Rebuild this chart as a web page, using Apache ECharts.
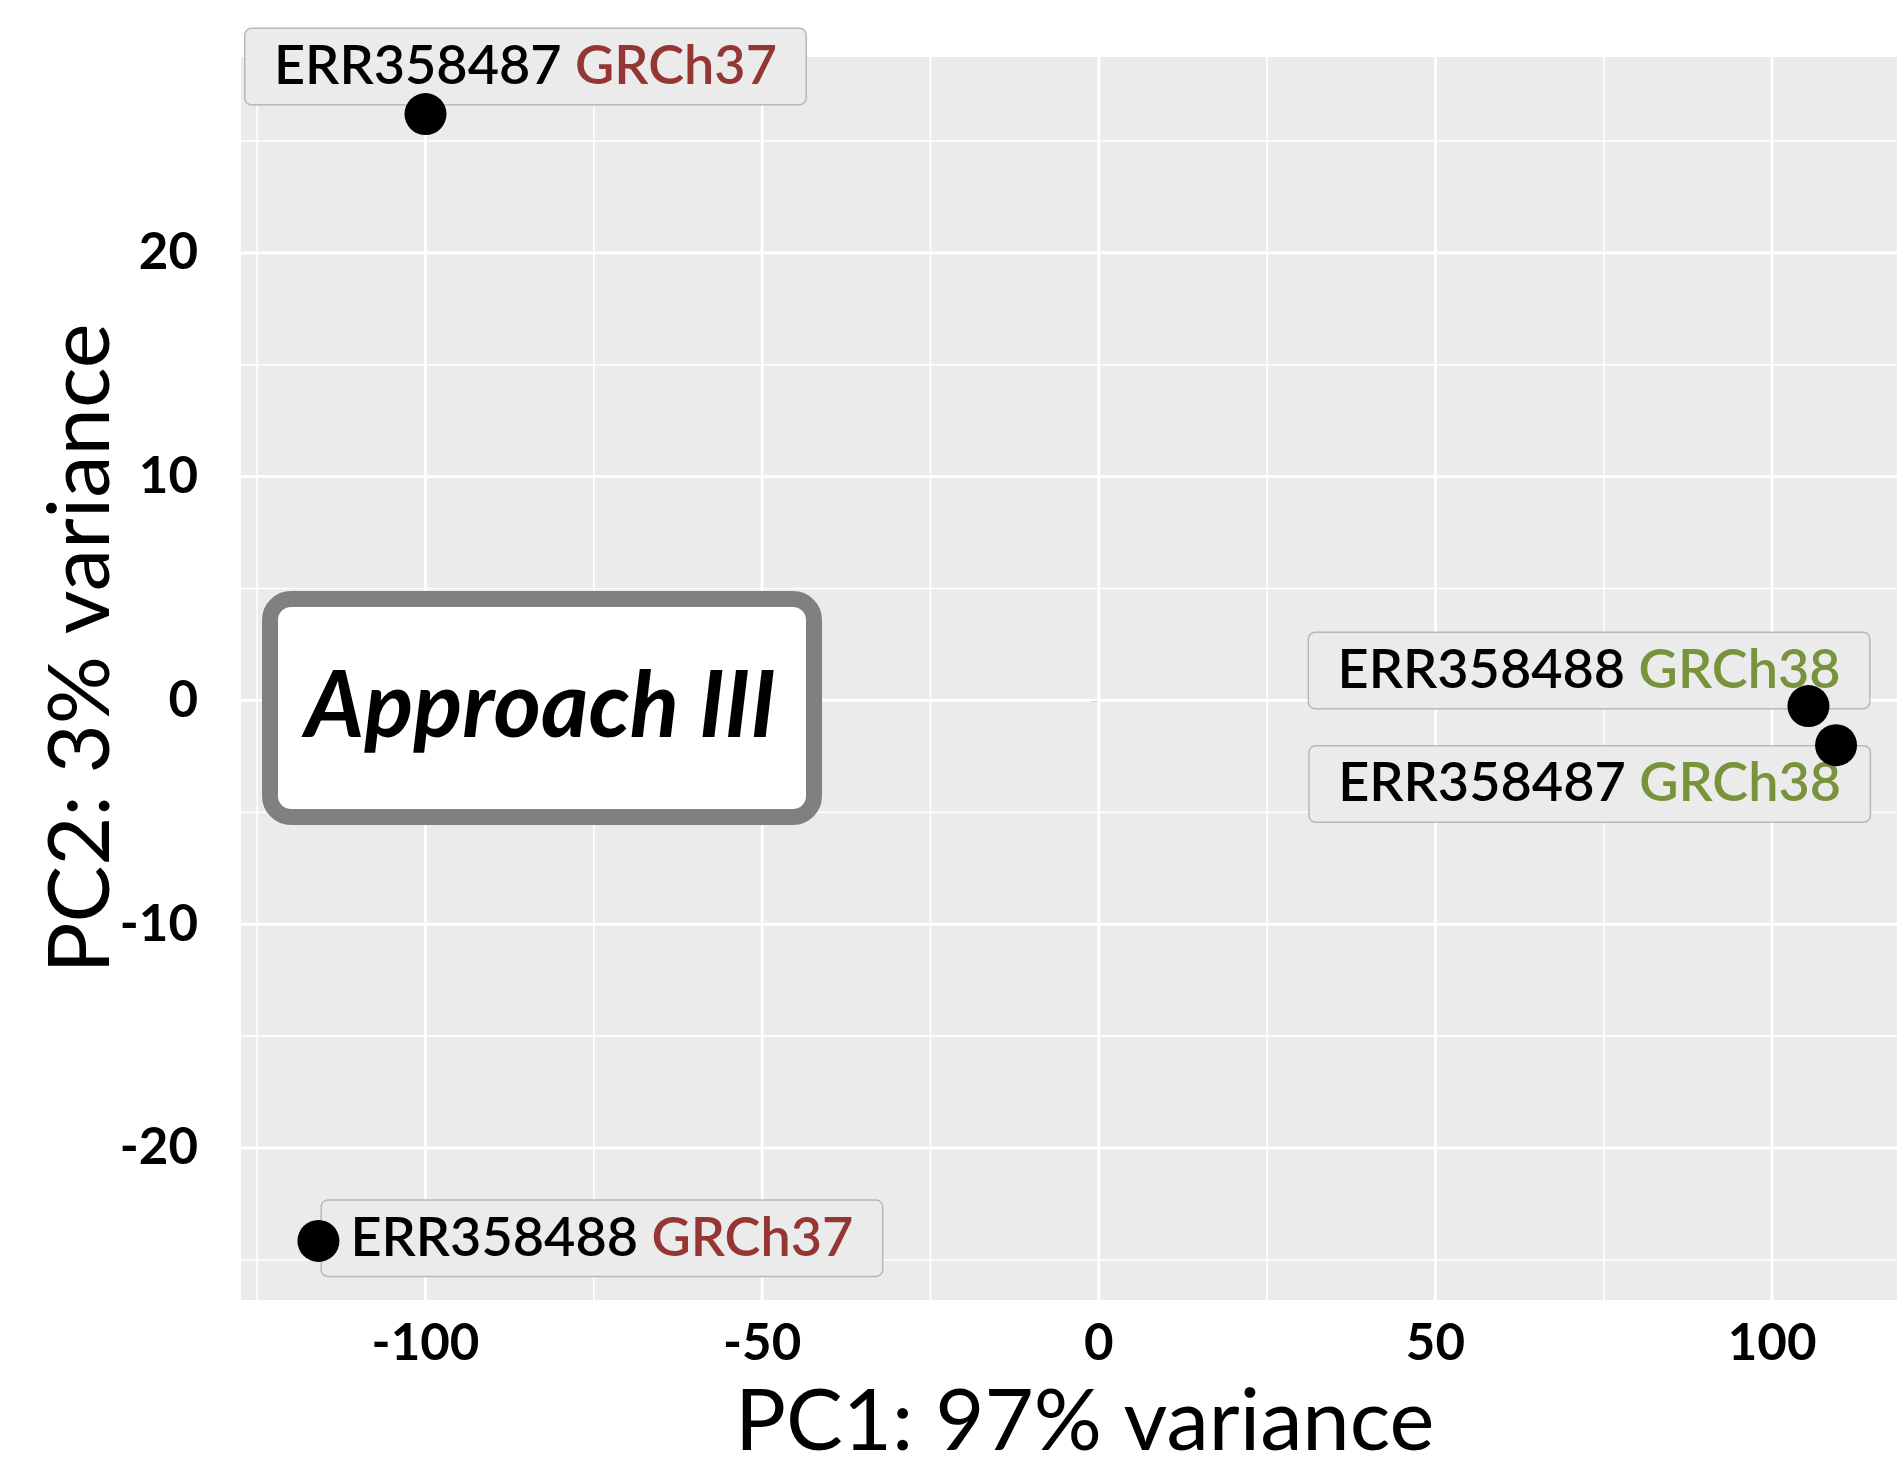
<!DOCTYPE html>
<html>
<head>
<meta charset="utf-8">
<title>PCA – Approach III</title>
<script src="https://cdn.jsdelivr.net/npm/echarts@6/dist/echarts.min.js"></script>
<style>
  html, body { margin: 0; padding: 0; background: #ffffff; overflow: hidden; }
  #chart { width: 1897px; height: 1464px; }
</style>
</head>
<body>
<div id="chart"></div>
<script>
// Samples and their principal-component scores
const samples    = ['ERR358487', 'ERR358488', 'ERR358488', 'ERR358487'];
const assemblies = ['GRCh37', 'GRCh37', 'GRCh38', 'GRCh38'];
const pc1 = [-100.0, -115.9, 105.4, 109.5];
const pc2 = [26.2, -24.15, -0.25, -2.0];

// Axis ticks (major carry labels, minor only grid lines)
const xTicks      = [-100, -50, 0, 50, 100];
const xMinorTicks = [-125, -75, -25, 25, 75];
const yTicks      = [-20, -10, 0, 10, 20];
const yMinorTicks = [-25, -15, -5, 5, 15, 25];

// Visible panel range
const X_MIN = -127.4, X_MAX = 121;
const Y_MIN = -26.79, Y_MAX = 28.75;

// Styling
const assemblyColor = { GRCh37: '#943634', GRCh38: '#77933C' };
const labelOffsets = [[100, -47.5], [283.5, -2.6], [-219.4, -35.6], [-246.4, 38.7]];
const FONT = 'Lato';

const points = pc1.map((x, i) => [x, pc2[i]]);

const gridVertical = xTicks.map(v => [v, 1]).concat(xMinorTicks.map(v => [v, 0]));
const gridHorizontal = yTicks.map(v => [v, 1]).concat(yMinorTicks.map(v => [v, 0]));

const richStyles = { id: { color: '#000000', fontFamily: FONT, fontWeight: 600, fontSize: 54, lineHeight: 53 } };
Object.keys(assemblyColor).forEach(k => {
  richStyles[k] = { color: assemblyColor[k], fontFamily: FONT, fontWeight: 600, fontSize: 54, lineHeight: 53 };
});

const chart = echarts.init(document.getElementById('chart'), null, { renderer: 'canvas', width: 1897, height: 1464 });

chart.setOption({
  animation: false,
  backgroundColor: '#ffffff',
  grid: {
    left: 241, top: 57, width: 1672.5, height: 1243,
    outerBoundsMode: 'none',
    show: true, backgroundColor: '#EBEBEB', borderWidth: 0, containLabel: false
  },
  xAxis: {
    type: 'value', min: X_MIN, max: X_MAX,
    splitLine: { show: false },
    axisLine: { show: false },
    axisTick: { show: true, length: 8, customValues: xTicks, lineStyle: { color: '#4D4D4D', width: 2 } },
    axisLabel: { customValues: xTicks, fontFamily: FONT, fontWeight: 'bold', fontSize: 51, color: '#000000', margin: 18 },
    name: 'PC1: 97% variance', nameLocation: 'middle', nameGap: 80,
    nameTextStyle: { fontFamily: FONT, fontSize: 85, color: '#000000', padding: [0, 0, 0, 15] }
  },
  yAxis: {
    type: 'value', min: Y_MIN, max: Y_MAX,
    splitLine: { show: false },
    axisLine: { show: false },
    axisTick: { show: true, length: 8, customValues: yTicks, lineStyle: { color: '#4D4D4D', width: 2 } },
    axisLabel: { customValues: yTicks, fontFamily: FONT, fontWeight: 'bold', fontSize: 51, color: '#000000', margin: 43 },
    name: 'PC2: 3% variance', nameLocation: 'middle', nameGap: 117, nameRotate: 90,
    nameMoveOverlap: false,
    nameTextStyle: { fontFamily: FONT, fontSize: 85, color: '#000000', padding: [0, 0, 0, 60] }
  },
  series: [
    {
      // vertical panel grid lines
      type: 'custom', z: 1, silent: true,
      encode: { x: 0 },
      data: gridVertical,
      renderItem: (params, api) => {
        const v = api.value(0);
        const a = api.coord([v, Y_MAX]);
        const b = api.coord([v, Y_MIN]);
        return { type: 'line', shape: { x1: a[0], y1: a[1], x2: b[0], y2: b[1] },
                 style: { stroke: '#FFFFFF', lineWidth: api.value(1) ? 2.8 : 1.6 } };
      }
    },
    {
      // horizontal panel grid lines
      type: 'custom', z: 1, silent: true,
      encode: { y: 0 },
      data: gridHorizontal,
      renderItem: (params, api) => {
        const v = api.value(0);
        const a = api.coord([X_MIN, v]);
        const b = api.coord([X_MAX, v]);
        return { type: 'line', shape: { x1: a[0], y1: a[1], x2: b[0], y2: b[1] },
                 style: { stroke: '#FFFFFF', lineWidth: api.value(1) ? 2.8 : 1.6 } };
      }
    },
    {
      // sample name boxes
      type: 'scatter', z: 2, silent: true,
      symbol: 'circle', symbolSize: 1,
      itemStyle: { color: 'rgba(0,0,0,0)', opacity: 1 },
      data: points.map((p, i) => ({ value: p, label: { offset: labelOffsets[i] } })),
      label: {
        show: true, position: 'inside', opacity: 1,
        formatter: p => '{id|' + samples[p.dataIndex] + '} {' + assemblies[p.dataIndex] + '|' + assemblies[p.dataIndex] + '}',
        fontFamily: FONT, fontWeight: 600, fontSize: 54, lineHeight: 53, color: '#000000',
        backgroundColor: '#EBEBEB', borderColor: '#B8B8B8', borderWidth: 1.5, borderRadius: 6,
        width: 560, padding: [11, 0], align: 'center', verticalAlign: 'middle',
        rich: richStyles
      }
    },
    {
      // sample points
      type: 'scatter', z: 3, silent: true,
      symbol: 'circle', symbolSize: 42,
      itemStyle: { color: '#000000', opacity: 1 },
      data: points
    }
  ],
  graphic: [
    {
      type: 'group', x: 262, y: 591,
      children: [
        { type: 'rect', z: 100, shape: { x: 8, y: 8, width: 544, height: 218, r: 21 },
          style: { fill: '#FFFFFF', stroke: '#808080', lineWidth: 16 } },
        { type: 'text', z: 101, x: 278.5, y: 117,
          style: { text: 'Approach III', font: 'italic bold 91px Lato', fill: '#000000',
                   align: 'center', verticalAlign: 'middle' } }
      ]
    }
  ]
});
</script>
</body>
</html>
